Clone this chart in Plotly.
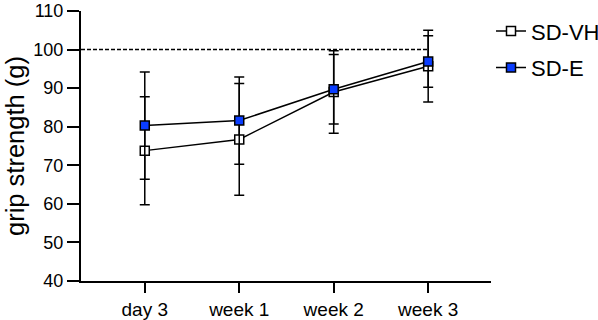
import plotly.graph_objects as go

categories = ["day 3", "week 1", "week 2", "week 3"]
vh_mean = [73.8, 76.7, 89.0, 95.7]
vh_sd = [14.0, 14.5, 10.7, 9.3]
e_mean = [80.3, 81.6, 89.7, 96.9]
e_sd = [13.9, 11.3, 9.0, 6.7]
ref_level = 100
y_ticks = [40, 50, 60, 70, 80, 90, 100, 110]

X_RANGE = [-0.675, 3.665]
BLUE = "#0a3dff"
FONT = "Liberation Sans, Arial, sans-serif"

fig = go.Figure()

fig.add_trace(go.Scatter(
    x=categories, y=vh_mean, name="SD-VH", mode="lines+markers",
    legendgroup="a",
    line=dict(color="black", width=1.5),
    marker=dict(symbol="square", size=9, color="white", line=dict(color="black", width=1.5)),
    error_y=dict(type="data", array=vh_sd, visible=True, color="black", thickness=1.5, width=5),
))
fig.add_trace(go.Scatter(
    x=categories, y=e_mean, name="SD-E", mode="lines+markers",
    legendgroup="b",
    line=dict(color="black", width=1.5),
    marker=dict(symbol="square", size=9, color=BLUE, line=dict(color="black", width=1.5)),
    error_y=dict(type="data", array=e_sd, visible=True, color="black", thickness=1.5, width=5),
))

fig.add_shape(type="line", xref="x", yref="y", x0=X_RANGE[0], x1=len(categories) - 1,
              y0=ref_level, y1=ref_level, line=dict(color="black", width=1.5, dash="4px,2px"),
              layer="below")

fig.update_layout(
    width=598, height=320,
    margin=dict(l=81, r=107, t=11, b=39, autoexpand=False),
    paper_bgcolor="white", plot_bgcolor="white",
    font=dict(family=FONT, color="black"),
    showlegend=True,
    legend=dict(x=1.0, y=1.003, xanchor="left", yanchor="top", font=dict(size=22),
                tracegroupgap=5, bgcolor="rgba(0,0,0,0)", itemwidth=30),
    xaxis=dict(range=X_RANGE, showgrid=False, zeroline=False, showline=True, automargin=False,
               linecolor="black", linewidth=2, ticks="outside", ticklen=10, tickwidth=2,
               tickcolor="black", tickfont=dict(size=19)),
    yaxis=dict(range=[40, 110], tickvals=y_ticks, showgrid=False, zeroline=False, showline=True,
               automargin=False, ticklabeloverflow="allow",
               linecolor="black", linewidth=2, ticks="outside", ticklen=12, tickwidth=2,
               tickcolor="black", tickfont=dict(size=18),
               title=dict(text="grip strength (g)", font=dict(size=25.5), standoff=1)),
)

fig.write_html("out.html", config={"displayModeBar": False},
               post_script="document.body.style.margin='0';")
